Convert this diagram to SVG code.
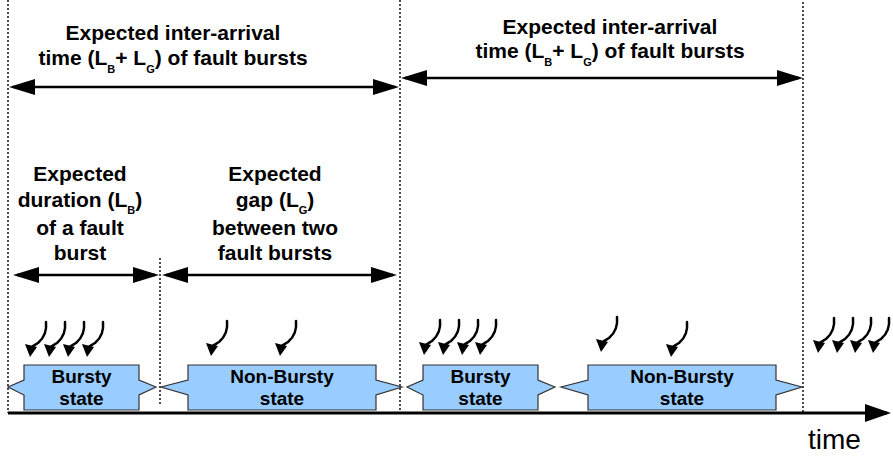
<svg xmlns="http://www.w3.org/2000/svg" xmlns:xlink="http://www.w3.org/1999/xlink" width="893" height="457" viewBox="0 0 893 457">
<style>
.lbl{font-family:"Liberation Sans",Arial,sans-serif;font-weight:bold;font-size:21px;fill:#000;text-anchor:middle}
.sub{font-size:11px}
.box{fill:#99CCFF;stroke:#333;stroke-width:1.2}
.btxt{font-family:"Liberation Sans",Arial,sans-serif;font-weight:bold;font-size:19px;fill:#000;text-anchor:middle}
.dot{stroke:#000;stroke-width:1.4;stroke-dasharray:2,2;fill:none}
.dim{stroke:#000;stroke-width:2.5;fill:none;marker-start:url(#ah);marker-end:url(#ah)}
.sq{stroke:#000;stroke-width:2.5;fill:none;stroke-linecap:round}
</style>
<defs>
<marker id="ah" markerUnits="userSpaceOnUse" markerWidth="26" markerHeight="16" refX="22" refY="8" orient="auto-start-reverse" viewBox="0 0 26 16">
<path d="M0,0 L26,8 L0,16 z" fill="#000"/>
</marker>
<marker id="ahT" markerUnits="userSpaceOnUse" markerWidth="26" markerHeight="18" refX="22" refY="9" orient="auto" viewBox="0 0 26 18">
<path d="M0,0 L26,9 L0,18 z" fill="#000"/>
</marker>
<g id="hit">
<path class="sq" d="M16,-35 C17,-26 14,-19 8,-14 C5,-12 3,-11 2,-10"/>
<path d="M0,0 L-5,-13 L7,-10 z" fill="#000"/>
</g>
</defs>

<g id="guides">
<line class="dot" x1="8" y1="0" x2="8" y2="413"/>
<line class="dot" x1="400" y1="0" x2="400" y2="413"/>
<line class="dot" x1="803" y1="2" x2="803" y2="413"/>
<line class="dot" x1="160" y1="258" x2="160" y2="405"/>
</g>

<g id="connectors">
<line class="dim" x1="13" y1="87" x2="395" y2="87"/>
<line class="dim" x1="405" y1="78" x2="799" y2="78"/>
<line class="dim" x1="17" y1="275" x2="155" y2="275"/>
<line class="dim" x1="166" y1="275" x2="393" y2="275"/>
<line stroke="#000" stroke-width="2.8" x1="8" y1="413" x2="887" y2="413" marker-end="url(#ahT)"/>
</g>

<g id="label-interarrival-1">
<text class="lbl" x="173" y="40">Expected inter-arrival</text>
<text class="lbl" x="173" y="65">time (L<tspan class="sub" dy="8">B</tspan><tspan dy="-8">+ L</tspan><tspan class="sub" dy="8">G</tspan><tspan dy="-8">) of fault bursts</tspan></text>
</g>
<g id="label-interarrival-2">
<text class="lbl" x="610" y="34">Expected inter-arrival</text>
<text class="lbl" x="610" y="58">time (L<tspan class="sub" dy="8">B</tspan><tspan dy="-8">+ L</tspan><tspan class="sub" dy="8">G</tspan><tspan dy="-8">) of fault bursts</tspan></text>
</g>
<g id="label-duration">
<text class="lbl" x="80" y="181">Expected</text>
<text class="lbl" x="80" y="207">duration (L<tspan class="sub" dy="7">B</tspan><tspan dy="-7">)</tspan></text>
<text class="lbl" x="80" y="235">of a fault</text>
<text class="lbl" x="80" y="260">burst</text>
</g>
<g id="label-gap">
<text class="lbl" x="275" y="181">Expected</text>
<text class="lbl" x="275" y="207">gap (L<tspan class="sub" dy="7">G</tspan><tspan dy="-7">)</tspan></text>
<text class="lbl" x="275" y="235">between two</text>
<text class="lbl" x="275" y="260">fault bursts</text>
</g>

<g id="faults">
<use xlink:href="#hit" x="30" y="357"/>
<use xlink:href="#hit" x="49" y="357"/>
<use xlink:href="#hit" x="68" y="357"/>
<use xlink:href="#hit" x="87" y="357"/>
<use xlink:href="#hit" x="211" y="356"/>
<use xlink:href="#hit" x="280" y="356"/>
<use xlink:href="#hit" x="424" y="355"/>
<use xlink:href="#hit" x="443" y="355"/>
<use xlink:href="#hit" x="462" y="355"/>
<use xlink:href="#hit" x="480" y="355"/>
<use xlink:href="#hit" x="601" y="352"/>
<use xlink:href="#hit" x="671" y="357"/>
<use xlink:href="#hit" x="818" y="353"/>
<use xlink:href="#hit" x="837" y="353"/>
<use xlink:href="#hit" x="855" y="353"/>
<use xlink:href="#hit" x="873" y="353"/>
</g>

<g id="bursty-1">
<polygon class="box" points="24,365 139,365 139,380 156,387 139,395 139,410 24,410 24,395 8,387 24,380"/>
<text class="btxt" x="81.5" y="383">Bursty</text>
<text class="btxt" x="81.5" y="405">state</text>
</g>
<g id="nonbursty-1">
<polygon class="box" points="188,365 376,365 376,380 402,387 376,395 376,410 188,410 188,395 161,387 188,380"/>
<text class="btxt" x="282" y="383">Non-Bursty</text>
<text class="btxt" x="282" y="405">state</text>
</g>
<g id="bursty-2">
<polygon class="box" points="423,365 538,365 538,380 555,387 538,395 538,410 423,410 423,395 407,387 423,380"/>
<text class="btxt" x="480.5" y="383">Bursty</text>
<text class="btxt" x="480.5" y="405">state</text>
</g>
<g id="nonbursty-2">
<polygon class="box" points="588,365 776,365 776,380 802,387 776,395 776,410 588,410 588,395 561,387 588,380"/>
<text class="btxt" x="682" y="383">Non-Bursty</text>
<text class="btxt" x="682" y="405">state</text>
</g>

<text x="808" y="449" font-family="'Liberation Sans',Arial,sans-serif" font-size="28" fill="#000">time</text>
</svg>
